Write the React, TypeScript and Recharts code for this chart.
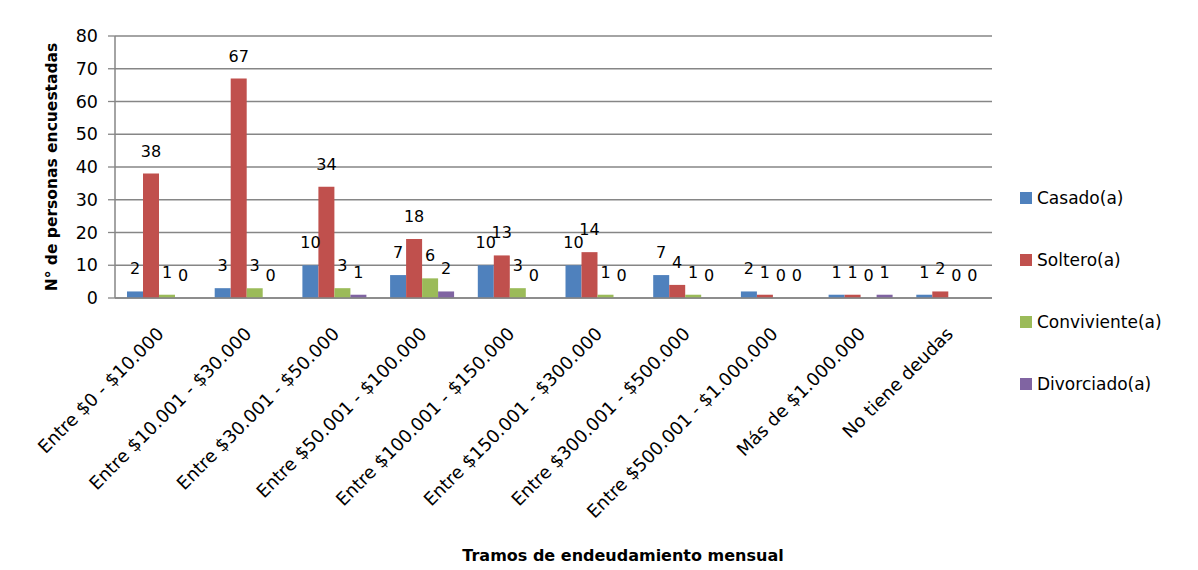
import { Bar, BarChart, CartesianGrid, LabelList, Label, XAxis, YAxis } from 'recharts';

const CATEGORIES = [
  'Entre $0 - $10.000',
  'Entre $10.001 - $30.000',
  'Entre $30.001 - $50.000',
  'Entre $50.001 - $100.000',
  'Entre $100.001 - $150.000',
  'Entre $150.001 - $300.000',
  'Entre $300.001 - $500.000',
  'Entre $500.001 - $1.000.000',
  'Más de $1.000.000',
  'No tiene deudas',
];

const CASADO = [2, 3, 10, 7, 10, 10, 7, 2, 1, 1];
const SOLTERO = [38, 67, 34, 18, 13, 14, 4, 1, 1, 2];
const CONVIVIENTE = [1, 3, 3, 6, 3, 1, 1, 0, 0, 0];
const DIVORCIADO = [0, 0, 1, 2, 0, 0, 0, 0, 1, 0];

const Y_TICKS = [0, 10, 20, 30, 40, 50, 60, 70, 80];

const SERIES = [
  { key: 'casado', name: 'Casado(a)', color: '#4F81BD' },
  { key: 'soltero', name: 'Soltero(a)', color: '#C0504D' },
  { key: 'conviviente', name: 'Conviviente(a)', color: '#9BBB59' },
  { key: 'divorciado', name: 'Divorciado(a)', color: '#8064A2' },
];

const GRID = '#868686';
const FONT = '"DejaVu Sans", sans-serif';

const data = CATEGORIES.map((name, i) => ({
  name,
  casado: CASADO[i],
  soltero: SOLTERO[i],
  conviviente: CONVIVIENTE[i],
  divorciado: DIVORCIADO[i],
}));

function XTick({ x, y, payload }: any) {
  const ax = x + 6;
  const ay = y + 37;
  return (
    <text
      x={ax}
      y={ay}
      transform={`rotate(-45, ${ax}, ${ay})`}
      textAnchor="end"
      fontSize={18}
      fill="#000"
    >
      {payload.value}
    </text>
  );
}

// Label renderer that also prints zero values
function ValueLabel({ x, y, width, value }: any) {
  if (value == null) return null;
  return (
    <text x={x + width / 2} y={y - 17} textAnchor="middle" fontSize={16} fill="#000">
      {value}
    </text>
  );
}

export default function App() {
  return (
    <div style={{ position: 'relative', width: 1198, height: 570, margin: -8, fontFamily: FONT, background: '#fff' }}>
      <div
        style={{
          position: 'absolute',
          left: 5,
          top: 6,
          right: 0,
          bottom: 0,
          borderTop: '2px solid #8c8c8c',
          borderLeft: '2px solid #8c8c8c',
        }}
      />
      <BarChart
        width={1198}
        height={570}
        data={data}
        margin={{ top: 36, right: 206, left: 0, bottom: 2 }}
        barCategoryGap={12}
        barGap={0}
        style={{ position: 'absolute', left: 0, top: 0 }}
      >
        <CartesianGrid vertical={false} stroke={GRID} strokeWidth={1.3} />
        <XAxis
          dataKey="name"
          interval={0}
          height={270}
          tickLine={false}
          tickSize={0}
          tickMargin={0}
          axisLine={{ stroke: GRID, strokeWidth: 1.5 }}
          tick={<XTick />}
        >
          <Label
            content={({ viewBox }: any) => (
              <text
                x={623}
                y={viewBox.y + 263}
                textAnchor="middle"
                fontSize={16}
                fontWeight="bold"
                fill="#000"
              >
                Tramos de endeudamiento mensual
              </text>
            )}
          />
        </XAxis>
        <YAxis
          width={115}
          domain={[0, 80]}
          ticks={Y_TICKS}
          interval={0}
          tickSize={7}
          tickMargin={10}
          axisLine={{ stroke: GRID, strokeWidth: 1.5 }}
          tickLine={{ stroke: GRID, strokeWidth: 1.3 }}
          tick={{ fontSize: 17.5, fill: '#000' }}
        >
          <Label
            content={({ viewBox }: any) => {
              const cx = 57;
              const cy = viewBox.y + viewBox.height / 2;
              return (
                <text
                  x={cx}
                  y={cy}
                  transform={`rotate(-90, ${cx}, ${cy})`}
                  textAnchor="middle"
                  fontSize={15.5}
                  fontWeight="bold"
                  fill="#000"
                >
                  N° de personas encuestadas
                </text>
              );
            }}
          />
        </YAxis>
        {SERIES.map((s) => (
          <Bar
            key={s.key}
            dataKey={s.key}
            name={s.name}
            fill={s.color}
            minPointSize={0.01}
            isAnimationActive={false}
          >
            <LabelList dataKey={s.key} content={<ValueLabel />} />
          </Bar>
        ))}
      </BarChart>
      <div style={{ position: 'absolute', left: 1020, top: 167 }}>
        {SERIES.map((s) => (
          <div key={s.key} style={{ height: 62, display: 'flex', alignItems: 'center', fontSize: 17 }}>
            <span style={{ width: 12, height: 12, background: s.color, marginRight: 5, display: 'inline-block' }} />
            <span>{s.name}</span>
          </div>
        ))}
      </div>
    </div>
  );
}
